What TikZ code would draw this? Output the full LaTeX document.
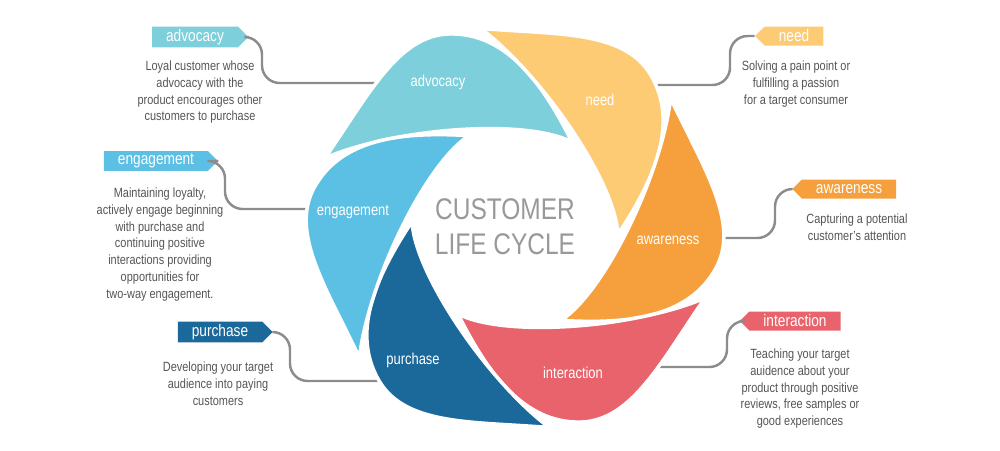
\documentclass[tikz,border=0pt]{standalone}
\usepackage{fontspec}
\setmainfont{Liberation Sans}[FakeStretch=0.82]
\usetikzlibrary{shapes.symbols}
\definecolor{cadvocacy}{HTML}{7DCFDB}
\definecolor{cneed}{HTML}{FDCB74}
\definecolor{cawareness}{HTML}{F6A03D}
\definecolor{cinteraction}{HTML}{E8636C}
\definecolor{cpurchase}{HTML}{1B689A}
\definecolor{cengagement}{HTML}{5CC0E4}
\definecolor{cline}{HTML}{8C8C8C}
\definecolor{ctext}{HTML}{555555}
\begin{document}
\begin{tikzpicture}
[x=0.02cm,y=-0.02cm,
  tagdecorate/.style={shape=signal,fill=#1,text=white,minimum height=19*0.02cm,
    inner sep=1.5pt,inner xsep=8pt,font=\fontsize{9.5}{10}\selectfont},
  petallabel/.style={text=white,font=\fontsize{9}{10}\selectfont},
  descdecorate/.style={anchor=north,align=center,text=ctext,
    font=\fontsize{7.6}{9.5}\selectfont},
  linedecorate/.style={draw=cline,line width=1.4pt,rounded corners=10pt}]
\useasboundingbox (0,0) rectangle (1000,450);
%%% tags
\node (tadvocacy) at (195,37) [tagdecorate=cadvocacy,signal to=east] {advocacy};
\node (tneed) at (794,36) [tagdecorate=cneed,signal to=west] {need};
\node (tawareness) at (849,189) [tagdecorate=cawareness,signal to=west] {awareness};
\node (tinteraction) at (795,321) [tagdecorate=cinteraction,signal to=west] {interaction};
\node (tpurchase) at (220,332) [tagdecorate=cpurchase,signal to=east] {purchase};
\node (tengagement) at (156,161) [tagdecorate=cengagement,signal to=east] {engagement};
% connectors (drawn under the petals)
\coordinate (eadvocacy) at (400,83);
\coordinate (eneed) at (610,85);
\coordinate (eawareness) at (690,238);
\coordinate (einteraction) at (650,367);
\coordinate (epurchase) at (400,381);
\coordinate (eengagement) at (330,209);
\draw[linedecorate] (tadvocacy.east) -| (262,83) -- (eadvocacy);
\draw[linedecorate] (tneed.west) -| (730,85) -- (eneed);
\draw[linedecorate] (tawareness.west) -| (775,238) -- (eawareness);
\draw[linedecorate] (tinteraction.west) -| (727,367) -- (einteraction);
\draw[linedecorate] (tpurchase.east) -| (290,381) -- (epurchase);
\draw[linedecorate] (tengagement.east) -| (225,209) -- (eengagement);
%%% petals
\foreach \col [count=\i from 0] in {cadvocacy,cneed,cawareness,cinteraction,cpurchase,cengagement}
{
\begin{scope}[shift={(515,228)},rotate=-60*\i]
\fill[\col,draw=white,line width=2pt] (-190,-70)
  .. controls (-145,-135) and (-115,-197) .. (-60,-194)
  .. controls (-5,-192) and (30,-140) .. (57,-86)
  .. controls (10,-110) and (-120,-100) .. cycle;
\end{scope}
}
% petal labels
\node (padvocacy) at (438,82) [petallabel] {advocacy};
\node (pneed) at (600,100) [petallabel] {need};
\node (pawareness) at (668,240) [petallabel] {awareness};
\node (pinteraction) at (573,373) [petallabel] {interaction};
\node (ppurchase) at (413,360) [petallabel] {purchase};
\node (pengagement) at (353,212) [petallabel] {engagement};
% centre
\node (centre) at (505,227) [align=center,text=black!40,
  font=\fontsize{17}{20}\selectfont] {CUSTOMER\\LIFE CYCLE};
% descriptions
\node (dadvocacy) at (200,55) [descdecorate] {Loyal customer whose\\advocacy with the\\product encourages other\\customers to purchase};
\node (dneed) at (796,55) [descdecorate] {Solving a pain point or\\fulfilling a passion\\for a target consumer};
\node (dawareness) at (857,208) [descdecorate] {Capturing a potential\\customer's attention};
\node (dinteraction) at (800,343) [descdecorate] {Teaching your target\\auidence about your\\product through positive\\reviews, free samples or\\good experiences};
\node (dpurchase) at (218,356) [descdecorate] {Developing your target\\audience into paying\\customers};
\node (dengagement) at (160,182) [descdecorate] {Maintaining loyalty,\\actively engage beginning\\with purchase and\\continuing positive\\interactions providing\\opportunities for\\two-way engagement.};
\end{tikzpicture}
\end{document}
